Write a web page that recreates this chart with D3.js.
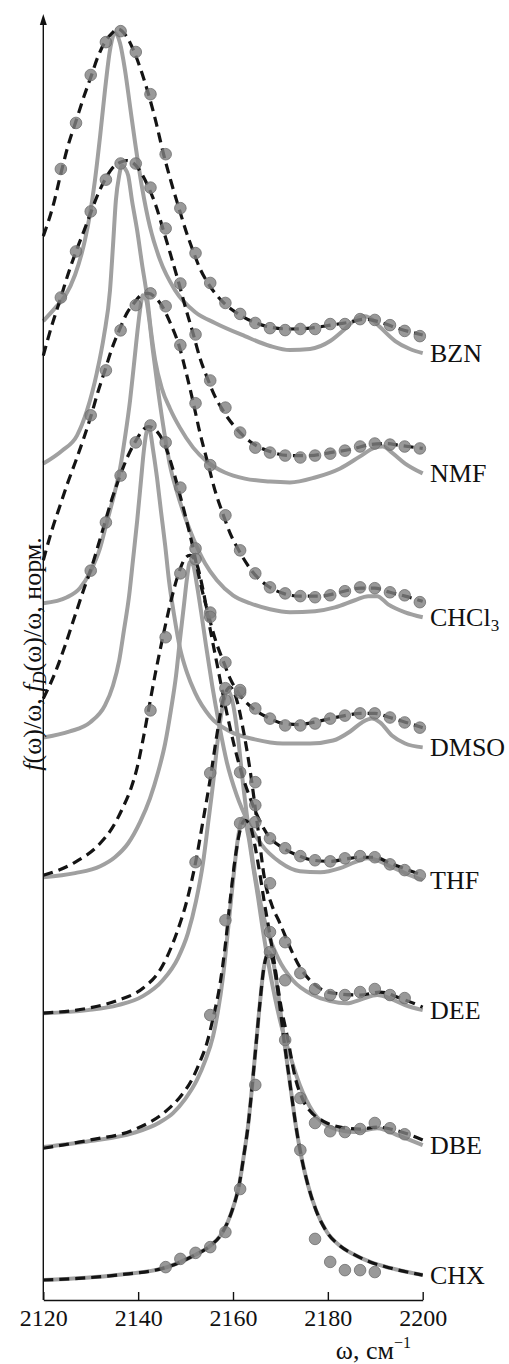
<!doctype html>
<html>
<head>
<meta charset="utf-8">
<title>Normalized spectra by solvent</title>
<script src="https://d3js.org/d3.v7.min.js"></script>
<style>
  body { margin: 0; background: #fff; }
  text { font-family: "Liberation Serif", "DejaVu Serif", serif; fill: #111; }
</style>
</head>
<body>
<div id="chart"></div>
<script>
// frequencies of the measured points, cm^-1
var dotW = [2123.7, 2126.9, 2130.0, 2133.2, 2136.3, 2139.5, 2142.6, 2145.8, 2148.9, 2152.1,
            2155.2, 2158.4, 2161.5, 2164.7, 2167.8, 2171.0, 2174.2, 2177.3, 2180.5, 2183.6,
            2186.8, 2189.9, 2193.1, 2196.2, 2199.4];

var solvents = ["BZN", "NMF", "CHCl3", "DMSO", "THF", "DEE", "DBE", "CHX"];
var offsets  = [3.50, 2.98, 2.47, 1.98, 1.47, 0.974, 0.485, 0];
var xTicks   = [2120, 2140, 2160, 2180, 2200];

// curves: [omega, normalized value above the solvent's own baseline]
var bznSolid = [[2120,0],[2122.47,0.047],[2124.58,0.091],[2126.68,0.168],[2128.79,0.296],[2129.85,0.391],[2130.9,0.515],[2131.96,0.672],[2133.01,0.843],[2134.06,0.989],[2135.12,1.051],[2136.17,1.015],[2137.23,0.916],[2138.28,0.785],[2139.34,0.653],[2140.81,0.489],[2142.5,0.343],[2144.61,0.223],[2147.77,0.113],[2151.99,0.033],[2156.2,-0.007],[2162.5,-0.055],[2167.8,-0.091],[2172.0,-0.106],[2176.25,-0.102],[2180.5,-0.073],[2183.6,-0.029],[2185.7,0.004],[2187.4,0.018],[2188.9,0.011],[2191.0,-0.022],[2194.2,-0.073],[2197.3,-0.102],[2200,-0.117]];
var bznFit = [[2120,0.310],[2122.05,0.420],[2123.73,0.540],[2125.2,0.639],[2126.9,0.730],[2128.6,0.821],[2130.1,0.894],[2131.5,0.964],[2133.0,1.018],[2134.5,1.051],[2135.75,1.066],[2137.2,1.047],[2139.1,0.985],[2140.8,0.905],[2142.3,0.821],[2143.8,0.723],[2145.2,0.620],[2146.9,0.511],[2148.6,0.412],[2150.1,0.328],[2151.6,0.255],[2153.0,0.193],[2154.7,0.139],[2157.9,0.069],[2161.1,0.026],[2164.4,-0.004],[2167.8,-0.022],[2172.0,-0.029],[2176.25,-0.026],[2180.5,-0.015],[2184.7,-0.004],[2187.8,0.007],[2191.0,-0.004],[2195.2,-0.029],[2200,-0.051]];
var bznDots = [0.555,0.723,0.898,1.018,1.058,0.982,0.828,0.609,0.412,0.248,0.139,0.066,0.026,-0.007,-0.026,-0.033,-0.029,-0.029,-0.011,-0.011,0.007,0.004,-0.015,-0.036,-0.055];

var nmfSolid = [[2120,0],[2123.94,0.047],[2127.1,0.102],[2129.2,0.193],[2131.3,0.332],[2132.8,0.467],[2134.06,0.631],[2134.7,0.796],[2135.3,0.960],[2136.0,1.051],[2136.6,1.088],[2137.2,1.077],[2137.9,1.051],[2138.7,0.960],[2139.8,0.850],[2140.8,0.730],[2141.9,0.606],[2142.7,0.485],[2143.6,0.376],[2145.0,0.274],[2146.7,0.201],[2148.8,0.131],[2151.6,0.058],[2154.5,0.007],[2158.3,-0.033],[2162.5,-0.055],[2167.8,-0.066],[2172.0,-0.069],[2177.3,-0.051],[2182.6,-0.018],[2186.8,0.026],[2189.9,0.058],[2191.6,0.062],[2193.5,0.040],[2196.3,0],[2200,-0.036]];
var nmfFit = [[2120,0.394],[2121.8,0.504],[2123.7,0.606],[2125.2,0.690],[2126.9,0.774],[2128.6,0.850],[2130.1,0.920],[2131.5,0.982],[2133.0,1.036],[2134.5,1.077],[2136.2,1.099],[2137.6,1.106],[2139.1,1.095],[2140.6,1.062],[2142.3,1.004],[2143.8,0.938],[2145.2,0.858],[2146.9,0.759],[2148.6,0.657],[2150.1,0.562],[2151.6,0.474],[2153.0,0.387],[2154.7,0.307],[2156.2,0.245],[2157.9,0.193],[2161.1,0.120],[2164.2,0.073],[2167.8,0.044],[2172.0,0.029],[2176.25,0.029],[2180.5,0.040],[2184.7,0.051],[2188.9,0.069],[2192.1,0.073],[2195.2,0.066],[2200,0.055]];
var nmfDots = [0.606,0.774,0.920,1.036,1.095,1.095,1.007,0.858,0.657,0.471,0.303,0.204,0.113,0.058,0.040,0.029,0.022,0.029,0.036,0.047,0.062,0.073,0.069,0.062,0.055];

var chcl3Solid = [[2120,0],[2125.0,0.022],[2127.7,0.055],[2129.85,0.113],[2131.96,0.201],[2133.4,0.296],[2134.9,0.394],[2136.2,0.493],[2137.2,0.602],[2138.3,0.741],[2139.1,0.869],[2140.0,1.015],[2140.6,1.095],[2141.0,1.124],[2141.7,1.106],[2142.3,1.040],[2143.1,0.923],[2144.2,0.777],[2145.5,0.624],[2146.7,0.504],[2148.2,0.405],[2149.9,0.314],[2151.6,0.237],[2154.1,0.146],[2156.6,0.084],[2160.0,0.029],[2163.6,0],[2167.8,-0.022],[2172.0,-0.033],[2177.3,-0.029],[2181.5,-0.015],[2185.7,0.011],[2188.5,0.026],[2190.4,0.026],[2192.7,-0.004],[2196.3,-0.033],[2200,-0.051]];
var chcl3Fit = [[2120,0.157],[2121.8,0.266],[2123.7,0.365],[2125.2,0.442],[2126.9,0.522],[2128.6,0.606],[2130.1,0.686],[2131.5,0.770],[2133.0,0.850],[2134.5,0.931],[2136.2,1.004],[2137.6,1.058],[2139.1,1.095],[2140.6,1.124],[2142.1,1.131],[2143.8,1.113],[2145.2,1.080],[2146.9,1.018],[2148.6,0.942],[2150.1,0.843],[2151.6,0.734],[2153.0,0.624],[2154.7,0.511],[2156.2,0.412],[2157.9,0.325],[2159.4,0.255],[2161.1,0.197],[2164.2,0.113],[2167.4,0.062],[2170.6,0.036],[2174.1,0.026],[2178.4,0.026],[2182.6,0.040],[2186.8,0.055],[2189.9,0.055],[2193.1,0.040],[2196.3,0.026],[2200,0.007]];
var chcl3Dots = [null,null,0.686,0.850,0.996,1.088,1.131,1.084,0.942,0.730,0.504,0.321,0.193,0.109,0.058,0.036,0.026,0.022,0.029,0.044,0.058,0.055,0.040,0.029,0.004];

var dmsoSolid = [[2120,0],[2125.6,0.022],[2129.85,0.055],[2133.0,0.117],[2134.7,0.190],[2136.0,0.281],[2137.0,0.391],[2138.1,0.518],[2138.9,0.646],[2139.8,0.792],[2140.6,0.938],[2141.2,1.047],[2141.7,1.109],[2142.1,1.131],[2142.5,1.120],[2143.1,1.055],[2144.0,0.945],[2144.8,0.828],[2145.7,0.701],[2146.5,0.573],[2147.6,0.445],[2148.8,0.328],[2150.3,0.237],[2152.0,0.164],[2155.15,0.077],[2159.4,0.022],[2164.6,-0.007],[2170.5,-0.022],[2176.25,-0.022],[2181.1,-0.011],[2184.7,0.022],[2187.2,0.055],[2189.3,0.069],[2191.0,0.055],[2193.5,0.007],[2196.3,-0.022],[2200,-0.036]];
var dmsoFit = [[2120,0.142],[2122.5,0.237],[2124.6,0.336],[2126.9,0.456],[2128.6,0.544],[2130.1,0.617],[2131.5,0.697],[2133.0,0.785],[2134.5,0.872],[2136.2,0.956],[2137.6,1.018],[2139.3,1.077],[2140.6,1.113],[2142.1,1.135],[2143.8,1.120],[2145.4,1.077],[2146.9,1.004],[2148.4,0.912],[2150.1,0.799],[2151.6,0.690],[2153.0,0.573],[2154.7,0.456],[2156.2,0.361],[2157.9,0.281],[2159.4,0.215],[2161.1,0.164],[2164.2,0.106],[2167.4,0.073],[2170.6,0.051],[2173.7,0.047],[2176.9,0.055],[2180.5,0.069],[2183.6,0.080],[2186.8,0.088],[2189.9,0.088],[2193.1,0.073],[2196.5,0.055],[2200,0.036]];
var dmsoDots = [null,null,0.609,0.785,0.956,1.077,1.139,1.077,0.912,0.690,0.456,0.274,0.164,0.106,0.069,0.044,0.044,0.051,0.069,0.080,0.088,0.088,0.073,0.055,0.036];

var thfSolid = [[2120,0],[2126.7,0.015],[2132.0,0.040],[2135.1,0.073],[2137.9,0.124],[2140.4,0.201],[2142.5,0.288],[2144.2,0.383],[2145.7,0.489],[2146.9,0.609],[2148.0,0.737],[2148.8,0.865],[2149.7,1.000],[2150.3,1.091],[2150.9,1.150],[2151.6,1.139],[2152.4,1.066],[2153.3,0.966],[2154.3,0.847],[2155.6,0.701],[2157.1,0.555],[2158.7,0.420],[2160.8,0.299],[2163.2,0.201],[2166.1,0.117],[2169.9,0.055],[2174.1,0.022],[2178.4,0.018],[2182.6,0.033],[2185.7,0.055],[2188.3,0.069],[2190.4,0.062],[2193.1,0.040],[2196.3,0.015],[2200,-0.011]];
var thfFit = [[2120,0.007],[2126.3,0.051],[2132.0,0.124],[2134.5,0.179],[2136.8,0.255],[2138.5,0.325],[2139.8,0.401],[2141.0,0.500],[2142.1,0.602],[2143.55,0.737],[2145.2,0.876],[2146.7,0.993],[2148.4,1.102],[2149.9,1.164],[2150.9,1.175],[2152.2,1.150],[2153.7,1.047],[2155.15,0.909],[2156.6,0.781],[2158.7,0.599],[2161.05,0.427],[2164.2,0.263],[2167.4,0.153],[2170.6,0.106],[2173.7,0.080],[2176.9,0.062],[2180.5,0.058],[2183.6,0.066],[2186.8,0.073],[2189.9,0.073],[2193.1,0.051],[2196.5,0.029],[2200,0.007]];
var thfDots = [null,null,null,null,null,null,0.609,0.876,1.109,1.161,0.950,0.646,0.383,0.263,0.142,0.106,0.077,0.062,0.058,0.069,0.077,0.073,0.047,0.026,0.007];

var deeSolid = [[2120,0],[2129.4,0.011],[2135.75,0.029],[2141.0,0.062],[2145.2,0.120],[2148.4,0.201],[2150.5,0.292],[2152.2,0.409],[2153.7,0.551],[2154.7,0.686],[2155.8,0.839],[2156.8,1.000],[2157.9,1.128],[2158.9,1.179],[2160.0,1.128],[2161.1,1.000],[2162.1,0.839],[2163.2,0.686],[2164.2,0.551],[2165.7,0.409],[2167.4,0.292],[2169.5,0.201],[2172.6,0.120],[2176.9,0.066],[2180.5,0.044],[2184.0,0.036],[2187.2,0.051],[2190.4,0.066],[2193.5,0.051],[2196.3,0.029],[2200,0.011]];
var deeFit = [[2120,0],[2129.4,0.018],[2135.75,0.047],[2141.0,0.091],[2144.6,0.157],[2148.2,0.296],[2150.3,0.412],[2152.2,0.558],[2153.7,0.704],[2155.15,0.850],[2156.6,1.015],[2157.9,1.142],[2159.4,1.190],[2160.8,1.142],[2162.1,1.040],[2163.6,0.887],[2165.3,0.668],[2166.7,0.485],[2168.2,0.394],[2169.9,0.328],[2172.0,0.241],[2174.1,0.168],[2176.9,0.109],[2181.1,0.073],[2186.8,0.066],[2191.0,0.077],[2195.2,0.055],[2200,0.022]];
var deeDots = [null,null,null,null,null,null,null,null,null,0.551,0.876,1.186,1.179,0.843,0.474,0.259,0.146,0.088,0.066,0.066,0.077,0.088,0.066,0.055,null];

var dbeSolid = [[2120,0],[2129.85,0.022],[2138.9,0.051],[2144.6,0.091],[2147.35,0.124],[2149.9,0.175],[2152.4,0.245],[2154.1,0.314],[2155.8,0.405],[2156.8,0.493],[2157.9,0.624],[2158.9,0.785],[2160.0,0.971],[2161.05,1.128],[2162.1,1.201],[2163.2,1.139],[2164.2,1.029],[2165.3,0.909],[2166.3,0.792],[2167.8,0.639],[2169.9,0.464],[2172.0,0.336],[2174.1,0.226],[2176.9,0.128],[2181.1,0.069],[2185.7,0.055],[2190.4,0.069],[2195.2,0.040],[2200,0.007]];
var dbeFit = [[2120,-0.004],[2129.85,0.026],[2138.9,0.062],[2146.1,0.135],[2148.8,0.182],[2151.6,0.255],[2153.0,0.310],[2154.5,0.380],[2155.8,0.471],[2157.3,0.599],[2158.3,0.726],[2159.4,0.901],[2160.4,1.047],[2161.5,1.157],[2162.5,1.193],[2163.6,1.175],[2164.6,1.102],[2165.7,0.993],[2166.7,0.883],[2167.8,0.774],[2168.8,0.664],[2169.9,0.536],[2171.6,0.391],[2173.1,0.255],[2174.75,0.172],[2176.9,0.120],[2179.0,0.095],[2182.6,0.073],[2186.8,0.066],[2190.4,0.073],[2194.2,0.062],[2200,0.026]];
var dbeDots = [null,null,null,null,null,null,null,null,null,null,0.482,0.828,1.182,1.186,0.785,0.609,0.179,0.088,0.058,0.055,0.066,0.088,0.069,0.047,null];

// for CHX the model and the fit coincide
var chxSolid = [[2120,0],[2135.5,0.018],[2146.1,0.047],[2151.6,0.088],[2155.15,0.124],[2157.3,0.161],[2158.9,0.212],[2160.2,0.274],[2161.3,0.347],[2162.3,0.456],[2163.2,0.566],[2164.0,0.701],[2164.85,0.858],[2165.7,1.015],[2166.5,1.139],[2167.6,1.197],[2168.6,1.150],[2169.7,1.022],[2170.75,0.876],[2172.0,0.719],[2173.3,0.558],[2174.55,0.438],[2175.8,0.347],[2177.5,0.255],[2179.8,0.175],[2182.6,0.124],[2185.3,0.095],[2188.9,0.066],[2193.1,0.044],[2200,0.018]];
var chxFit = chxSolid;
var chxDots = [null,null,null,null,null,null,null,0.047,0.077,0.099,0.120,0.175,0.332,0.712,1.197,0.876,0.474,0.150,0.066,0.036,0.036,0.029,null,null,null];

var solidCurves = [bznSolid, nmfSolid, chcl3Solid, dmsoSolid, thfSolid, deeSolid, dbeSolid, chxSolid];
var fitCurves   = [bznFit, nmfFit, chcl3Fit, dmsoFit, thfFit, deeFit, dbeFit, chxFit];
var dotSets     = [bznDots, nmfDots, chcl3Dots, dmsoDots, thfDots, deeDots, dbeDots, chxDots];

var series = solvents.map(function(name, i) {
  return {
    name: name,
    offset: offsets[i],
    solid: solidCurves[i],
    fit: fitCurves[i],
    dots: dotW.map(function(w, k) { return [w, dotSets[i][k]]; })
              .filter(function(d) { return d[1] !== null; })
  };
});

var width = 509, height = 1364;

var x = d3.scaleLinear().domain([2120, 2200]).range([43.3, 422.7]);
var y = d3.scaleLinear().domain([-0.073, 4.617]).range([1300, 15]);

var svg = d3.select("#chart")
  .append("svg")
    .attr("width", width)
    .attr("height", height);

function lineFor(off) {
  return d3.line()
    .x(function(d) { return x(d[0]); })
    .y(function(d) { return y(d[1] + off); })
    .curve(d3.curveMonotoneX);
}

// model curves (grey), then fits (black dashes), then measured points
svg.append("g")
  .selectAll("path")
  .data(series)
  .enter()
  .append("path")
    .attr("d", function(s) { return lineFor(s.offset)(s.solid); })
    .attr("fill", "none")
    .attr("stroke", "#a0a0a0")
    .attr("stroke-width", 4);

svg.append("g")
  .selectAll("path")
  .data(series)
  .enter()
  .append("path")
    .attr("d", function(s) { return lineFor(s.offset)(s.fit); })
    .attr("fill", "none")
    .attr("stroke", "#141414")
    .attr("stroke-width", 3.2)
    .attr("stroke-dasharray", "10,6");

series.forEach(function(s) {
  svg.append("g")
    .selectAll("circle")
    .data(s.dots)
    .enter()
    .append("circle")
      .attr("cx", function(d) { return x(d[0]); })
      .attr("cy", function(d) { return y(d[1] + s.offset); })
      .attr("r", 5.8)
      .style("fill", "#808080")
      .style("fill-opacity", 0.8)
      .style("stroke", "#6e6e6e")
      .style("stroke-width", 0.8);
});

// solvent labels at the right end of each curve
series.forEach(function(s) {
  var last = s.solid[s.solid.length - 1];
  var t = svg.append("text")
    .attr("x", 430)
    .attr("y", y(last[1] + s.offset))
    .attr("dy", "0.35em")
    .style("font-size", "26px");
  if (s.name === "CHCl3") {
    t.append("tspan").text("CHCl");
    t.append("tspan").text("3").style("font-size", "17px").attr("dy", "5");
  } else {
    t.text(s.name);
  }
});

// x axis, ticks pointing inwards
var xAxis = svg.append("g")
  .attr("transform", "translate(0,1300)")
  .call(d3.axisBottom(x).tickValues(xTicks).tickSizeInner(-8).tickSizeOuter(0).tickPadding(9).tickFormat(d3.format("d")));
xAxis.select(".domain").attr("stroke", "#111").attr("stroke-width", 1.4);
xAxis.selectAll(".tick line").attr("stroke", "#111").attr("stroke-width", 1.4);
xAxis.selectAll(".tick text")
  .style("font-family", "'Liberation Serif', serif")
  .style("font-size", "24px")
  .attr("fill", "#111");

// y axis: bare line with an arrow head
svg.append("line")
  .attr("x1", x(2120)).attr("x2", x(2120))
  .attr("y1", 1300).attr("y2", 22)
  .attr("stroke", "#111")
  .attr("stroke-width", 1.4);
svg.append("path")
  .attr("d", "M" + (x(2120) - 3.5) + ",25 L" + x(2120) + ",14 L" + (x(2120) + 3.5) + ",25 Z")
  .attr("fill", "#111");

// axis titles
var xt = svg.append("text")
  .attr("x", 411)
  .attr("y", 1359)
  .attr("text-anchor", "end")
  .style("font-size", "26px");
xt.append("tspan").text("ω, см");
xt.append("tspan").text("−1").style("font-size", "16px").attr("dy", "-11");

var yt = svg.append("text")
  .attr("transform", "translate(41,654) rotate(-90)")
  .attr("text-anchor", "middle")
  .style("font-size", "26px");
yt.append("tspan").text("f").style("font-style", "italic");
yt.append("tspan").text("(ω)/ω, ");
yt.append("tspan").text("f").style("font-style", "italic");
yt.append("tspan").text("D").style("font-style", "italic").style("font-size", "18px").attr("dy", "5");
yt.append("tspan").text("(ω)/ω, норм.").attr("dy", "-5");
</script>
</body>
</html>
